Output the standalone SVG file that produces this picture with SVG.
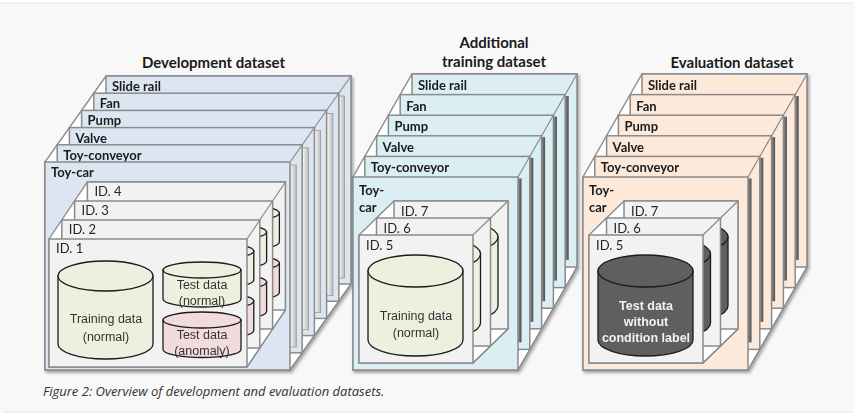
<svg xmlns="http://www.w3.org/2000/svg" xmlns:xlink="http://www.w3.org/1999/xlink" width="854" height="415" viewBox="0 0 854 415">
<defs>
<style>
.title{font-family:Lato,"Open Sans",sans-serif;font-weight:bold;font-size:15px;fill:#1a1a1a;text-anchor:middle}
.lbl{font-family:Lato,"Open Sans",sans-serif;font-weight:bold;font-size:13px;fill:#1a1a1a}
.idl{font-family:Lato,"Open Sans",sans-serif;font-size:13px;fill:#262626}
.cyt{font-family:"Liberation Sans",Arial,sans-serif;font-size:12.5px;fill:#333;text-anchor:middle}
.cyw{font-family:"Liberation Sans",Arial,sans-serif;font-size:12.5px;font-weight:bold;fill:#f2f2f2;text-anchor:middle}
.card{stroke:#8a8a8a;stroke-width:1.5}
.dev{fill:#dce6f2}.add{fill:#daeef3}.eva{fill:#fde9d9}
.hull{fill:#ffffff;stroke:#8a8a8a;stroke-width:1.3}
.diag{fill:none;stroke:#8a8a8a;stroke-width:1.2}
.idc{fill:#f2f2f2;stroke:#8a8a8a;stroke-width:1.5}
.cyl{stroke:#1a1a1a;stroke-width:1.3}
.g{fill:#ebf1de}.r{fill:#f2dcdb}.k{fill:#5f5f5f}
.bar{fill:url(#bg);stroke:#9a9a9a;stroke-width:0.8}
.bar2{fill:url(#bg2);stroke:none}
.cap{font-family:"Open Sans",sans-serif;font-style:italic;font-size:13px;fill:#333}
</style>
<linearGradient id="bg" x1="0" x2="1" y1="0" y2="0"><stop offset="0" stop-color="#ffffff"/><stop offset="1" stop-color="#b8b8b8"/></linearGradient>
<linearGradient id="bg2" x1="0" x2="1" y1="0" y2="0"><stop offset="0" stop-color="#8c8c8c"/><stop offset="1" stop-color="#4d4d4d"/></linearGradient>
<filter id="sh" x="-5%" y="-5%" width="115%" height="115%"><feDropShadow dx="1.5" dy="2" stdDeviation="1.5" flood-color="#000" flood-opacity="0.35"/></filter>
<g id="devCyl">
<path class="cyl g" d="M9 37 V105 A47.5 15 0 0 0 104 105 V37 Z"/>
<ellipse class="cyl g" cx="56.5" cy="37" rx="47.5" ry="15"/>
<path class="cyl g" d="M114 31 V60 A39 8 0 0 0 192 60 V31 Z"/>
<ellipse class="cyl g" cx="153" cy="31" rx="39" ry="8"/>
<path class="cyl r" d="M114 81 V110.5 A39 8 0 0 0 192 110.5 V81 Z"/>
<ellipse class="cyl r" cx="153" cy="81" rx="39" ry="8"/>
</g>
<g id="addCyl">
<path class="cyl g" d="M9 36 V105 A47.5 16 0 0 0 104 105 V36 Z"/>
<ellipse class="cyl g" cx="56.5" cy="36" rx="47.5" ry="16"/>
</g>
<g id="evaCyl">
<path class="cyl k" d="M9 36 V105 A47.5 16 0 0 0 104 105 V36 Z"/>
<ellipse class="cyl k" cx="56.5" cy="36" rx="47.5" ry="16"/>
</g>
</defs>

<rect x="0" y="0" width="854" height="415" fill="#ffffff"/>
<rect x="0" y="3" width="854" height="409" fill="#f8f8f8"/>
<line x1="0" y1="3" x2="854" y2="3" stroke="#e4e4e4" stroke-width="1"/>
<line x1="3" y1="412" x2="854" y2="412" stroke="#e4e4e4" stroke-width="1"/>

<text class="title" x="213.5" y="68">Development dataset</text>
<text class="title" x="494" y="48">Additional</text>
<text class="title" x="494" y="67">training dataset</text>
<text class="title" x="732" y="68">Evaluation dataset</text>

<!-- Development dataset stack -->
<g id="dev-stack" filter="url(#sh)">
<polygon class="hull" points="45,370 45,162 106,76 351,76 351,284 290,370"/>
<g id="dev-slide-rail"><rect class="card dev" x="106" y="76" width="245" height="208"/><text class="lbl" x="112" y="91">Slide rail</text></g>
<rect class="bar" x="338" y="96" width="6.5" height="182"/>
<g id="dev-fan"><rect class="card dev" x="93.8" y="93.2" width="245" height="208"/><text class="lbl" x="99.8" y="108.2">Fan</text></g>
<rect class="bar" x="326.4" y="113.4" width="6.5" height="182"/>
<g id="dev-pump"><rect class="card dev" x="81.6" y="110.4" width="245" height="208"/><text class="lbl" x="87.6" y="125.4">Pump</text></g>
<rect class="bar" x="314.2" y="130.6" width="6.5" height="182"/>
<g id="dev-valve"><rect class="card dev" x="69.4" y="127.6" width="245" height="208"/><text class="lbl" x="75.4" y="142.6">Valve</text></g>
<rect class="bar" x="302" y="147.8" width="6.5" height="182"/>
<g id="dev-toy-conveyor"><rect class="card dev" x="57.2" y="144.8" width="245" height="208"/><text class="lbl" x="63.2" y="159.8">Toy-conveyor</text></g>
<rect class="bar" x="289.8" y="165" width="6.5" height="182"/>
<g id="dev-toy-car"><rect class="card dev" x="45" y="162" width="245" height="208"/><text class="lbl" x="51" y="177">Toy-car</text></g>
<polyline class="diag" points="290,162 351,76"/>
<polyline class="diag" points="290,370 351,284"/>
<!-- ID cards -->
<polygon class="hull" points="49,367 49,239 87.4,182 285.4,182 285.4,310 247,367"/>
<g id="dev-id4"><rect class="idc" x="87.4" y="182" width="198" height="128"/><use xlink:href="#devCyl" x="87.4" y="182"/><text class="idl" x="94.4" y="196">ID. 4</text></g>
<g id="dev-id3"><rect class="idc" x="74.6" y="201" width="198" height="128"/><use xlink:href="#devCyl" x="74.6" y="201"/><text class="idl" x="81.6" y="215">ID. 3</text></g>
<g id="dev-id2"><rect class="idc" x="61.8" y="220" width="198" height="128"/><use xlink:href="#devCyl" x="61.8" y="220"/><text class="idl" x="68.8" y="234">ID. 2</text></g>
<g id="dev-id1"><rect class="idc" x="49" y="239" width="198" height="128"/><use xlink:href="#devCyl" x="49" y="239"/><text class="idl" x="56" y="253">ID. 1</text>
<text class="cyt" x="106" y="323">Training data</text><text class="cyt" x="106" y="341">(normal)</text>
<text class="cyt" x="202" y="289">Test data</text><text class="cyt" x="202" y="305">(normal)</text>
<text class="cyt" x="202" y="339">Test data</text><text class="cyt" x="202" y="355">(anomaly)</text></g>
<polyline class="diag" points="247,239 285.4,182"/>
<polyline class="diag" points="247,367 285.4,310"/>
</g>

<!-- Additional training dataset stack -->
<g id="add-stack" filter="url(#sh)">
<polygon class="hull" points="353,370 353,177 412,74 577,74 577,267 518,370"/>
<g id="add-slide-rail"><rect class="card add" x="412" y="74" width="165" height="193"/><text class="lbl" x="418" y="90">Slide rail</text></g>
<rect class="bar2" x="565.2" y="96" width="3.5" height="164"/>
<g id="add-fan"><rect class="card add" x="400.2" y="94.6" width="165" height="193"/><text class="lbl" x="406.2" y="110.6">Fan</text></g>
<rect class="bar2" x="553.4" y="116.6" width="3.5" height="164"/>
<g id="add-pump"><rect class="card add" x="388.4" y="115.2" width="165" height="193"/><text class="lbl" x="394.4" y="131.2">Pump</text></g>
<rect class="bar2" x="541.6" y="137.2" width="3.5" height="164"/>
<g id="add-valve"><rect class="card add" x="376.6" y="135.8" width="165" height="193"/><text class="lbl" x="382.6" y="151.8">Valve</text></g>
<rect class="bar2" x="529.8" y="157.8" width="3.5" height="164"/>
<g id="add-toy-conveyor"><rect class="card add" x="364.8" y="156.4" width="165" height="193"/><text class="lbl" x="370.8" y="172.4">Toy-conveyor</text></g>
<rect class="bar2" x="518" y="178.4" width="3.5" height="164"/>
<g id="add-toy-car"><rect class="card add" x="353" y="177" width="165" height="193"/><text class="lbl" x="359" y="195">Toy-</text><text class="lbl" x="359" y="212">car</text></g>
<polyline class="diag" points="518,177 577,74"/>
<polyline class="diag" points="518,370 577,267"/>
<polygon class="hull" points="359,363 359,235 394,201 508,201 508,329 473,363"/>
<g id="add-id7"><rect class="idc" x="394" y="201" width="114" height="128"/><use xlink:href="#addCyl" x="394" y="201"/><text class="idl" x="401" y="216">ID. 7</text></g>
<g id="add-id6"><rect class="idc" x="376.5" y="218" width="114" height="128"/><use xlink:href="#addCyl" x="376.5" y="218"/><text class="idl" x="383.5" y="233">ID. 6</text></g>
<g id="add-id5"><rect class="idc" x="359" y="235" width="114" height="128"/><use xlink:href="#addCyl" x="359" y="235"/><text class="idl" x="366" y="250">ID. 5</text>
<text class="cyt" x="416" y="320">Training data</text><text class="cyt" x="416" y="337">(normal)</text></g>
<polyline class="diag" points="473,235 508,201"/>
<polyline class="diag" points="473,363 508,329"/>
</g>

<!-- Evaluation dataset stack -->
<g id="eva-stack" filter="url(#sh)">
<polygon class="hull" points="583,370 583,177 642,74 807,74 807,267 748,370"/>
<g id="eva-slide-rail"><rect class="card eva" x="642" y="74" width="165" height="193"/><text class="lbl" x="648" y="90">Slide rail</text></g>
<rect class="bar2" x="795.2" y="96" width="3.5" height="164"/>
<g id="eva-fan"><rect class="card eva" x="630.2" y="94.6" width="165" height="193"/><text class="lbl" x="636.2" y="110.6">Fan</text></g>
<rect class="bar2" x="783.4" y="116.6" width="3.5" height="164"/>
<g id="eva-pump"><rect class="card eva" x="618.4" y="115.2" width="165" height="193"/><text class="lbl" x="624.4" y="131.2">Pump</text></g>
<rect class="bar2" x="771.6" y="137.2" width="3.5" height="164"/>
<g id="eva-valve"><rect class="card eva" x="606.6" y="135.8" width="165" height="193"/><text class="lbl" x="612.6" y="151.8">Valve</text></g>
<rect class="bar2" x="759.8" y="157.8" width="3.5" height="164"/>
<g id="eva-toy-conveyor"><rect class="card eva" x="594.8" y="156.4" width="165" height="193"/><text class="lbl" x="600.8" y="172.4">Toy-conveyor</text></g>
<rect class="bar2" x="748" y="178.4" width="3.5" height="164"/>
<g id="eva-toy-car"><rect class="card eva" x="583" y="177" width="165" height="193"/><text class="lbl" x="589" y="195">Toy-</text><text class="lbl" x="589" y="212">car</text></g>
<polyline class="diag" points="748,177 807,74"/>
<polyline class="diag" points="748,370 807,267"/>
<polygon class="hull" points="589,363 589,235 624,201 738,201 738,329 703,363"/>
<g id="eva-id7"><rect class="idc" x="624" y="201" width="114" height="128"/><use xlink:href="#evaCyl" x="624" y="201"/><text class="idl" x="631" y="216">ID. 7</text></g>
<g id="eva-id6"><rect class="idc" x="606.5" y="218" width="114" height="128"/><use xlink:href="#evaCyl" x="606.5" y="218"/><text class="idl" x="613.5" y="233">ID. 6</text></g>
<g id="eva-id5"><rect class="idc" x="589" y="235" width="114" height="128"/><use xlink:href="#evaCyl" x="589" y="235"/><text class="idl" x="596" y="250">ID. 5</text>
<text class="cyw" x="646" y="310">Test data</text><text class="cyw" x="646" y="326">without</text><text class="cyw" x="646" y="342">condition label</text></g>
<polyline class="diag" points="703,235 738,201"/>
<polyline class="diag" points="703,363 738,329"/>
</g>

<g id="connectors"></g>

<text class="cap" x="43" y="396">Figure 2: Overview of development and evaluation datasets.</text>
</svg>
